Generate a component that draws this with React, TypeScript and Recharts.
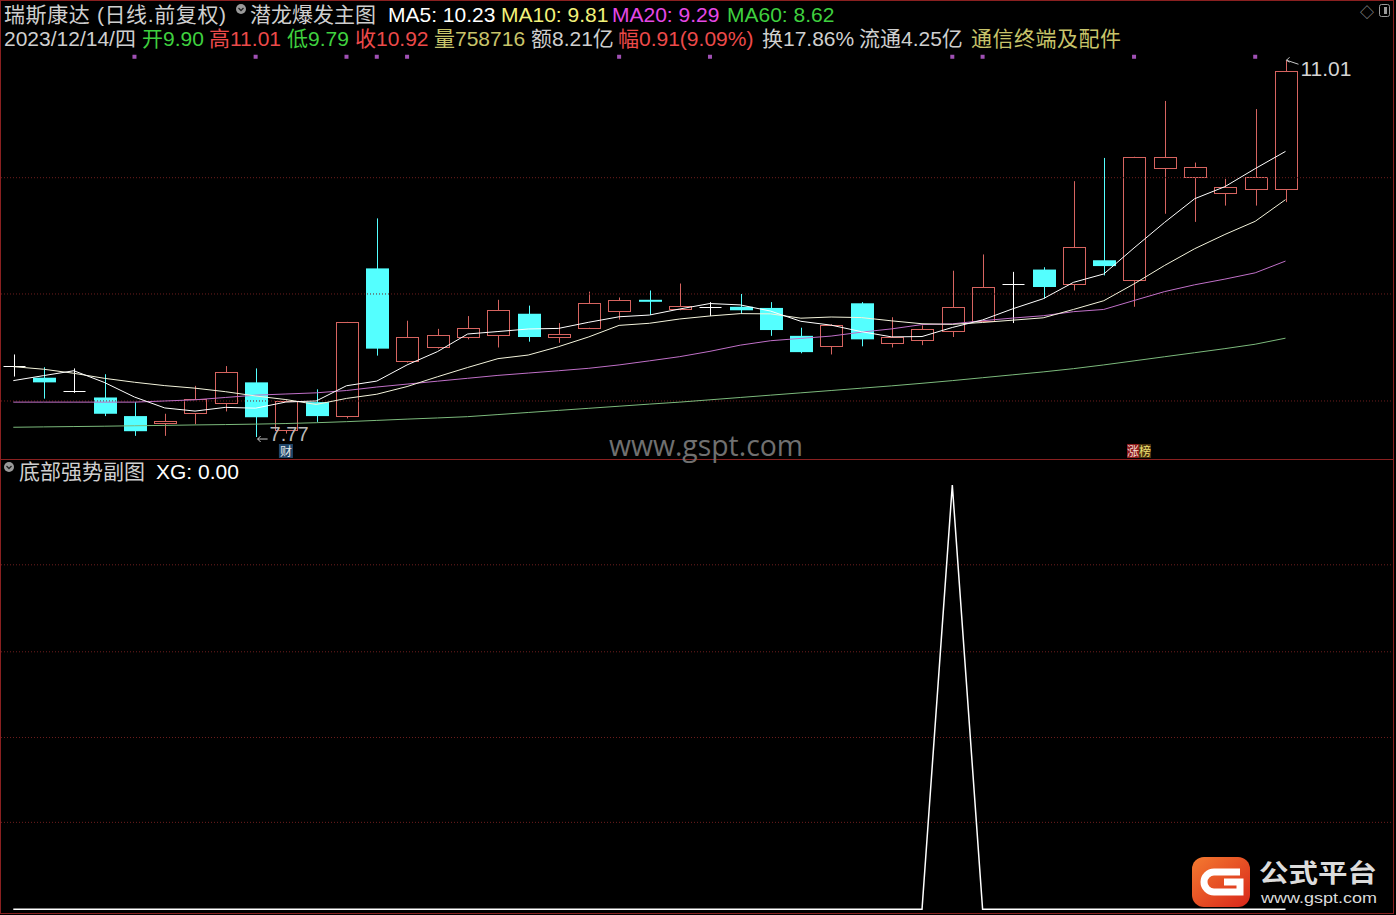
import React from 'react';
import {
  ComposedChart, Bar, Line, Scatter, XAxis, YAxis,
  ReferenceLine, ReferenceDot,
} from 'recharts';

// 43 daily bars (前复权 prices)
const opens = [
  8.38, 8.28, 8.17, 8.11, 7.95, 7.89, 7.98, 8.06, 8.24, 7.83,
  8.07, 7.95, 9.22, 8.42, 8.54, 8.63, 8.65, 8.83, 8.63, 8.71,
  8.85, 8.95, 8.87, 8.89, 8.89, 8.88, 8.64, 8.55, 8.92, 8.58,
  8.60, 8.68, 8.77, 9.09, 9.21, 9.09, 9.29, 9.12, 10.08, 10.01,
  9.87, 9.90, 9.90,
];
const highs = [
  8.48, 8.37, 8.36, 8.31, 8.07, 7.97, 8.21, 8.38, 8.36, 8.09,
  8.18, 8.76, 9.65, 8.77, 8.70, 8.81, 8.95, 8.90, 8.75, 9.02,
  8.97, 9.03, 9.09, 8.93, 9.00, 8.93, 8.71, 8.74, 8.93, 8.80,
  8.73, 9.20, 9.34, 9.19, 9.23, 9.97, 10.17, 10.18, 10.66, 10.13,
  9.99, 10.59, 11.01,
];
const lows = [
  8.29, 8.10, 8.15, 7.95, 7.78, 7.78, 7.88, 7.99, 7.77, 7.80,
  7.90, 7.93, 8.47, 8.41, 8.53, 8.61, 8.54, 8.59, 8.58, 8.71,
  8.78, 8.82, 8.86, 8.81, 8.83, 8.64, 8.49, 8.48, 8.55, 8.54,
  8.56, 8.63, 8.76, 8.75, 8.96, 9.03, 9.16, 8.89, 9.69, 9.62,
  9.76, 9.76, 9.79,
];
const closes = [
  8.38, 8.24, 8.17, 7.97, 7.82, 7.91, 8.10, 8.33, 7.94, 8.08,
  7.95, 8.76, 8.53, 8.63, 8.65, 8.71, 8.86, 8.63, 8.66, 8.92,
  8.95, 8.94, 8.90, 8.89, 8.86, 8.69, 8.50, 8.73, 8.61, 8.63,
  8.70, 8.89, 9.06, 9.09, 9.06, 9.40, 9.24, 10.18, 10.18, 10.09,
  9.92, 10.01, 10.92,
];
const ma5 = [
  8.255, 8.298, 8.34, 8.24, 8.114, 8.02, 7.993, 8.025, 8.018, 8.071,
  8.08, 8.211, 8.251, 8.39, 8.504, 8.656, 8.677, 8.699, 8.704, 8.757,
  8.804, 8.819, 8.871, 8.918, 8.906, 8.853, 8.765, 8.732, 8.676, 8.631,
  8.634, 8.712, 8.777, 8.873, 8.959, 9.1, 9.172, 9.396, 9.614, 9.819,
  9.923, 10.078, 10.226,
];
const ma10 = [
  8.375, 8.353, 8.318, 8.275, 8.241, 8.212, 8.19, 8.16, 8.123, 8.092,
  8.05, 8.102, 8.138, 8.204, 8.288, 8.368, 8.444, 8.475, 8.547, 8.631,
  8.73, 8.748, 8.785, 8.811, 8.831, 8.829, 8.792, 8.802, 8.797, 8.769,
  8.744, 8.739, 8.755, 8.775, 8.795, 8.867, 8.942, 9.087, 9.244, 9.389,
  9.512, 9.625, 9.811,
];
const ma20 = [
  8.07, 8.07, 8.07, 8.07, 8.07, 8.08, 8.09, 8.11, 8.13, 8.14,
  8.15, 8.17, 8.2, 8.225, 8.25, 8.275, 8.3, 8.32, 8.34, 8.361,
  8.39, 8.425, 8.461, 8.507, 8.56, 8.598, 8.618, 8.638, 8.672, 8.7,
  8.737, 8.743, 8.77, 8.793, 8.813, 8.848, 8.867, 8.944, 9.02, 9.079,
  9.128, 9.182, 9.283,
];
const ma60 = [
  7.854, 7.857, 7.86, 7.863, 7.867, 7.87, 7.874, 7.877, 7.881, 7.886,
  7.893, 7.902, 7.913, 7.924, 7.934, 7.945, 7.963, 7.981, 7.999, 8.017,
  8.035, 8.053, 8.07, 8.09, 8.11, 8.13, 8.15, 8.17, 8.19, 8.21,
  8.232, 8.255, 8.28, 8.305, 8.33, 8.358, 8.39, 8.425, 8.46, 8.495,
  8.53, 8.568, 8.62,
];
// 底部强势副图 XG signal
const xg = [
  0, 0, 0, 0, 0, 0, 0, 0, 0, 0,
  0, 0, 0, 0, 0, 0, 0, 0, 0, 0,
  0, 0, 0, 0, 0, 0, 0, 0, 0, 0,
  0, 1, 0, 0, 0, 0, 0, 0, 0, 0,
  0, 0, 0,
];
const flagBars = [4, 8, 11, 12, 13, 20, 23, 31, 32, 37, 41];
const priceGrid = [10, 9, 8.08];
const subGrid = [0.205, 0.405, 0.607, 0.812];

const rows = closes.map((c, i) => ({
  i, open: opens[i], high: highs[i], low: lows[i], close: c,
  range: [lows[i], highs[i]],
  ma5: ma5[i], ma10: ma10[i], ma20: ma20[i], ma60: ma60[i], xg: xg[i],
}));
const flags = flagBars.map((i) => ({ i, fy: 11.04 }));

const X_DOMAIN: [number, number] = [-0.406, 45.582];
const FONT = '"Liberation Sans", "Noto Sans CJK SC", sans-serif';
const UP = '#d66460';
const DOWN = '#54ffff';
const GRID = '#6e1e1e';
const FRAME = '#8a2020';
const GRAY = '#cfcfcf';
const GREEN = '#3fd03f';
const RED = '#ec4a4a';
const OLIVE = '#c8c46a';

function Candle(props: any) {
  const { x, y, width, height, payload } = props;
  if (x == null || y == null || !payload) return null;
  const { open, close, high, low } = payload;
  const top = Math.min(y, y + height);
  const h = Math.abs(height);
  const k = high > low ? h / (high - low) : 0;
  const py = (v: number) => top + (high - v) * k;
  const cx = Math.round(x + width / 2) + 0.5;
  const half = 11;
  const yo = py(open), yc = py(close);
  const bt = Math.min(yo, yc), bb = Math.max(yo, yc);
  if (close > open) {
    const t = Math.round(bt) + 0.5;
    const b = Math.max(t + 1, Math.round(bb) + 0.5);
    return (
      <g>
        <line x1={cx} x2={cx} y1={py(high)} y2={t} stroke={UP} />
        <line x1={cx} x2={cx} y1={b} y2={py(low)} stroke={UP} />
        <rect x={cx - half} y={t} width={half * 2} height={b - t} fill="none" stroke={UP} />
      </g>
    );
  }
  if (close < open) {
    return (
      <g>
        <line x1={cx} x2={cx} y1={py(high)} y2={py(low)} stroke={DOWN} />
        <rect x={cx - half - 0.5} y={bt} width={half * 2 + 1} height={Math.max(2, bb - bt)} fill={DOWN} />
      </g>
    );
  }
  const ym = Math.round(yo) + 0.5;
  return (
    <g>
      <line x1={cx} x2={cx} y1={py(high)} y2={py(low)} stroke="#ffffff" />
      <line x1={cx - half} x2={cx + half} y1={ym} y2={ym} stroke="#ffffff" />
    </g>
  );
}

function HighMark(props: any) {
  const vb = props.viewBox;
  if (!vb) return null;
  const cx = vb.x + vb.width / 2, cy = vb.y + vb.height / 2;
  return (
    <g>
      <path d={`M${cx + 1},${cy} L${cx + 13},${cy + 4}`} stroke="#c8c8c8" fill="none" />
      <path d={`M${cx + 4},${cy - 3} L${cx + 1},${cy} L${cx + 4},${cy + 2}`} stroke="#c8c8c8" fill="none" />
      <text x={cx + 15} y={cy + 16} fill="#d4d4d4" fontSize={21} fontFamily={FONT}>{props.text}</text>
    </g>
  );
}

function LowMark(props: any) {
  const vb = props.viewBox;
  if (!vb) return null;
  const cx = vb.x + vb.width / 2, cy = vb.y + vb.height / 2;
  return (
    <g>
      <path d={`M${cx + 2},${cy + 2} L${cx + 12},${cy + 2}`} stroke="#c8c8c8" fill="none" />
      <path d={`M${cx + 5},${cy - 1} L${cx + 2},${cy + 2} L${cx + 5},${cy + 5}`} stroke="#c8c8c8" fill="none" />
      <text x={cx + 14} y={cy + 4} fill="#b8b8b8" fontSize={20} fontFamily={FONT}>{props.text}</text>
    </g>
  );
}

function CaiMark(props: any) {
  const vb = props.viewBox;
  if (!vb) return null;
  const cx = vb.x + vb.width / 2, cy = vb.y + vb.height / 2;
  return (
    <g>
      <rect x={cx - 7} y={cy - 7} width={14} height={14} fill="#20466a" />
      <text x={cx} y={cy + 5} textAnchor="middle" fill="#e8e8e8" fontSize={12} fontFamily={FONT}>财</text>
    </g>
  );
}

function BangMark(props: any) {
  const vb = props.viewBox;
  if (!vb) return null;
  const cx = vb.x + vb.width / 2, cy = vb.y + vb.height / 2;
  return (
    <g>
      <rect x={cx - 7} y={cy - 7} width={12} height={14} fill="#8c1c1c" />
      <rect x={cx + 5} y={cy - 7} width={12} height={14} fill="#4a3210" />
      <text x={cx - 7} y={cy + 5} fill="#f4d8d0" fontSize={12} fontFamily={FONT}>涨</text>
      <text x={cx + 5} y={cy + 5} fill="#f0e070" fontSize={12} fontFamily={FONT}>榜</text>
    </g>
  );
}

function Overlay() {
  const r1 = 21.5, r2 = 45.5;
  const T = (x: number, y: number, s: string, fill: string) => (
    <text x={x} y={y} fill={fill} fontSize={21} fontFamily={FONT}>{s}</text>
  );
  // a label character and its value in one text run
  const P = (x: number, label: string, lc: string, value: string, vc: string) => (
    <text x={x} y={r2} fontSize={21} fontFamily={FONT}>
      <tspan fill={lc}>{label}</tspan>
      <tspan fill={vc}>{value}</tspan>
    </text>
  );
  return (
    <svg width={1396} height={915} style={{ position: 'absolute', left: 0, top: 0, pointerEvents: 'none' }}>
      <rect x={0.5} y={0.5} width={1393} height={913} fill="none" stroke={FRAME} />
      <line x1={0} x2={1394} y1={459.5} y2={459.5} stroke={FRAME} />

      <text x={4} y={r1} fill={GRAY} fontSize={21} fontFamily={FONT}
        textLength={222} lengthAdjust="spacing">瑞斯康达 (日线.前复权)</text>
      <circle cx={241} cy={9} r={5} fill="#9a9a9a" />
      <path d="M238.5,8 L241,10.5 L243.5,8" stroke="#202020" fill="none" strokeWidth={1.3} />
      {T(250, r1, '潜龙爆发主图', GRAY)}
      {T(388, r1, 'MA5: 10.23', '#ffffff')}
      {T(501, r1, 'MA10: 9.81', '#f2f27a')}
      {T(612, r1, 'MA20: 9.29', '#e648e6')}
      {T(727, r1, 'MA60: 8.62', GREEN)}
      <text x={1360} y={17} fill="#9a9a9a" fontSize={14} fontFamily={FONT}>◇</text>
      <rect x={1379.5} y={4.5} width={10} height={12} fill="none" stroke="#9a9a9a" rx={2} />
      <rect x={1384} y={7} width={3} height={7} fill="#9a9a9a" />

      {T(4, r2, '2023/12/14/四', GRAY)}
      {P(142, '开', GREEN, '9.90', GREEN)}
      {P(209, '高', RED, '11.01', RED)}
      {P(287, '低', GREEN, '9.79', GREEN)}
      {P(355, '收', RED, '10.92', RED)}
      {P(434, '量', OLIVE, '758716', OLIVE)}
      {P(531, '额', GRAY, '8.21亿', GRAY)}
      {P(618, '幅', RED, '0.91(9.09%)', RED)}
      {T(762, r2, '换17.86%', GRAY)}
      {T(859, r2, '流通4.25亿', GRAY)}
      <text x={971} y={r2} fill={OLIVE} fontSize={21} fontFamily={FONT}
        textLength={150} lengthAdjust="spacing">通信终端及配件</text>

      <text x={609} y={456} fill="#707070" fontSize={30} fontFamily='"Open Sans", sans-serif'
        textLength={194} lengthAdjust="spacingAndGlyphs">www.gspt.com</text>

      <circle cx={9} cy={467} r={5} fill="#9a9a9a" />
      <path d="M6.5,466 L9,468.5 L11.5,466" stroke="#202020" fill="none" strokeWidth={1.3} />
      {T(19, 479, '底部强势副图', GRAY)}
      {T(156, 479, 'XG: 0.00', '#ffffff')}

      <defs>
        <linearGradient id="lg" x1="0" y1="0" x2="1" y2="1">
          <stop offset="0" stopColor="#f47a30" />
          <stop offset="1" stopColor="#d8261a" />
        </linearGradient>
      </defs>
      <rect x={1192} y={857} width={58} height={50} rx={12} fill="url(#lg)" />
      <path d="M1240,872 L1214,872 A10,10 0 0 0 1214,892 L1240,892 L1240,882 L1224,882"
        stroke="#ffffff" strokeWidth={7} fill="none" />
      <text x={1259} y={882} fill="#dcdcdc" fontSize={25} fontWeight="bold" fontFamily={FONT}
        textLength={118} lengthAdjust="spacingAndGlyphs">公式平台</text>
      <text x={1261} y={903} fill="#dcdcdc" fontSize={15} fontFamily={FONT}
        textLength={116} lengthAdjust="spacingAndGlyphs">www.gspt.com</text>
    </svg>
  );
}

export default function App() {
  const hi = Math.max(...highs);
  const hiIdx = highs.indexOf(hi);
  const lo = Math.min(...lows);
  const loIdx = lows.indexOf(lo);
  return (
    <div style={{ position: 'absolute', left: 0, top: 0, width: 1396, height: 915, background: '#000', overflow: 'hidden' }}>
      <div style={{ position: 'absolute', left: 0, top: 0 }}>
        <ComposedChart width={1396} height={459} data={rows} margin={{ top: 0, right: 2, bottom: 0, left: 1 }}>
          <XAxis dataKey="i" type="number" domain={X_DOMAIN} hide allowDataOverflow />
          <YAxis domain={[7.581, 11.528]} hide allowDataOverflow />
          {priceGrid.map((v) => (
            <ReferenceLine key={v} y={v} stroke={GRID} strokeDasharray="1 2" />
          ))}
          <Bar dataKey="range" barSize={23} isAnimationActive={false}
            shape={(p: any) => <Candle {...p} />} />
          <Line dataKey="ma60" type="linear" stroke="#7cba7c" strokeWidth={1} dot={false} isAnimationActive={false} />
          <Line dataKey="ma20" type="linear" stroke="#c070c8" strokeWidth={1} dot={false} isAnimationActive={false} />
          <Line dataKey="ma10" type="linear" stroke="#f4f4dc" strokeWidth={1} dot={false} isAnimationActive={false} />
          <Line dataKey="ma5" type="linear" stroke="#ffffff" strokeWidth={1} dot={false} isAnimationActive={false} />
          <Scatter data={flags} dataKey="fy" isAnimationActive={false}
            shape={(p: any) => <rect x={p.cx - 2} y={p.cy - 2} width={4} height={4} fill="#a050b4" />} />
          <ReferenceDot x={hiIdx} y={hi} r={1} fill="none" stroke="none"
            label={(p: any) => <HighMark {...p} text={hi.toFixed(2)} />} />
          <ReferenceDot x={loIdx} y={lo} r={1} fill="none" stroke="none"
            label={(p: any) => <LowMark {...p} text={lo.toFixed(2)} />} />
          <ReferenceDot x={9} y={7.65} r={1} fill="none" stroke="none"
            label={(p: any) => <CaiMark {...p} />} />
          <ReferenceDot x={37} y={7.65} r={1} fill="none" stroke="none"
            label={(p: any) => <BangMark {...p} />} />
        </ComposedChart>
      </div>
      <div style={{ position: 'absolute', left: 0, top: 460 }}>
        <ComposedChart width={1396} height={455} data={rows} margin={{ top: 0, right: 2, bottom: 1, left: 1 }}>
          <XAxis dataKey="i" type="number" domain={X_DOMAIN} hide allowDataOverflow />
          <YAxis domain={[-0.011, 1.059]} hide allowDataOverflow />
          {subGrid.map((v) => (
            <ReferenceLine key={v} y={v} stroke={GRID} strokeDasharray="1 2" />
          ))}
          <Line dataKey="xg" type="linear" stroke="#ffffff" strokeWidth={1.5} dot={false} isAnimationActive={false} />
        </ComposedChart>
      </div>
      <Overlay />
    </div>
  );
}
